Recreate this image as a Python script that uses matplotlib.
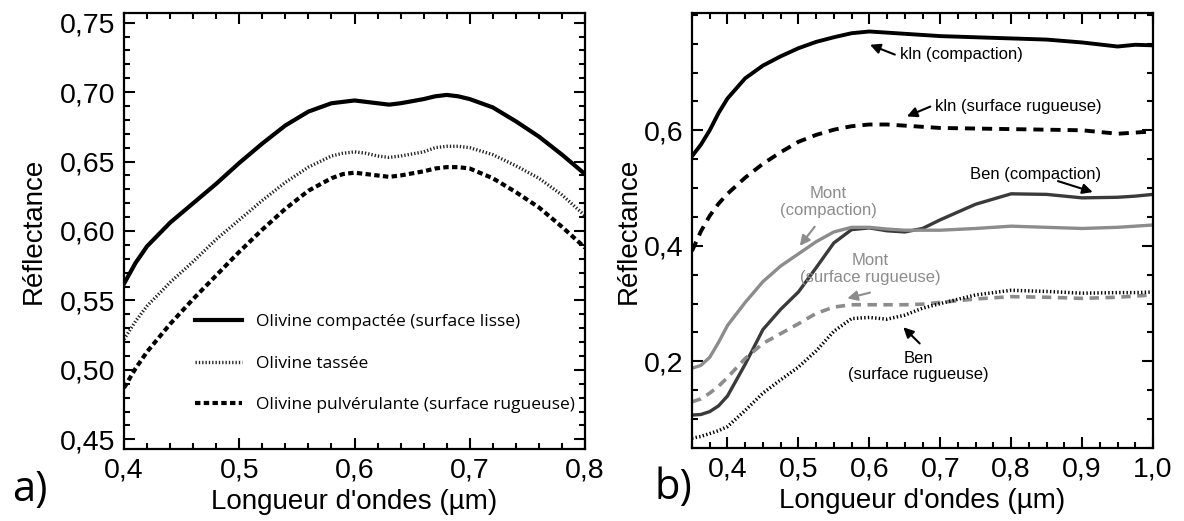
import matplotlib.pyplot as plt
from matplotlib.ticker import MultipleLocator, FixedLocator, FuncFormatter

plt.rcParams['font.family'] = ['Liberation Sans', 'DejaVu Sans']

# ---- panel a) olivine
wl_a = [0.40, 0.41, 0.42, 0.44, 0.46, 0.48, 0.50, 0.52, 0.54, 0.56, 0.58, 0.59, 0.60,
        0.61, 0.62, 0.63, 0.64, 0.66, 0.67, 0.68, 0.69, 0.70, 0.72, 0.74, 0.76, 0.78, 0.80]
oli_compact = [0.562, 0.577, 0.589, 0.606, 0.620, 0.634, 0.649, 0.663, 0.676, 0.686, 0.692, 0.693, 0.694,
               0.693, 0.692, 0.691, 0.692, 0.695, 0.697, 0.698, 0.697, 0.695, 0.689, 0.679, 0.668, 0.655, 0.641]
oli_tassee = [0.522, 0.535, 0.546, 0.563, 0.578, 0.594, 0.608, 0.622, 0.635, 0.646, 0.654, 0.656, 0.657,
              0.656, 0.654, 0.653, 0.654, 0.657, 0.660, 0.661, 0.661, 0.660, 0.655, 0.647, 0.638, 0.626, 0.611]
oli_pulv = [0.487, 0.501, 0.513, 0.533, 0.551, 0.568, 0.585, 0.601, 0.616, 0.629, 0.638, 0.641, 0.642,
            0.641, 0.640, 0.639, 0.640, 0.643, 0.645, 0.646, 0.646, 0.645, 0.638, 0.628, 0.617, 0.603, 0.588]
labels_a = ['Olivine compactée (surface lisse)', 'Olivine tassée',
            'Olivine pulvérulante (surface rugueuse)']

# ---- panel b) clays
wl_b = [0.35, 0.3625, 0.375, 0.3875, 0.40, 0.425, 0.45, 0.475, 0.50, 0.525, 0.55, 0.575, 0.60,
        0.625, 0.65, 0.675, 0.70, 0.75, 0.80, 0.85, 0.90, 0.95, 0.975, 1.0]
kln_comp = [0.555, 0.575, 0.600, 0.630, 0.655, 0.690, 0.712, 0.728, 0.742, 0.753, 0.761, 0.768, 0.771,
            0.769, 0.767, 0.765, 0.763, 0.761, 0.759, 0.757, 0.752, 0.745, 0.748, 0.747]
kln_rug = [0.391, 0.425, 0.452, 0.473, 0.490, 0.518, 0.542, 0.562, 0.580, 0.592, 0.601, 0.607, 0.610,
           0.610, 0.608, 0.606, 0.604, 0.603, 0.602, 0.601, 0.600, 0.594, 0.596, 0.598]
ben_comp = [0.107, 0.108, 0.113, 0.123, 0.140, 0.195, 0.255, 0.290, 0.320, 0.362, 0.405, 0.428, 0.431,
            0.426, 0.424, 0.430, 0.445, 0.472, 0.490, 0.489, 0.483, 0.484, 0.486, 0.489]
mont_comp = [0.188, 0.193, 0.207, 0.233, 0.262, 0.302, 0.338, 0.365, 0.386, 0.407, 0.424, 0.432, 0.432,
             0.429, 0.427, 0.427, 0.427, 0.430, 0.434, 0.432, 0.430, 0.432, 0.434, 0.436]
mont_rug = [0.130, 0.135, 0.145, 0.157, 0.172, 0.205, 0.231, 0.248, 0.265, 0.283, 0.294, 0.298, 0.298,
            0.298, 0.298, 0.299, 0.302, 0.308, 0.312, 0.311, 0.309, 0.311, 0.313, 0.315]
ben_rug = [0.067, 0.070, 0.075, 0.080, 0.087, 0.115, 0.145, 0.168, 0.190, 0.218, 0.252, 0.274, 0.276,
           0.273, 0.280, 0.292, 0.300, 0.315, 0.323, 0.321, 0.318, 0.319, 0.319, 0.320]

dark = '#3a3a3a'
light = '#8c8c8c'

fig = plt.figure(figsize=(11.84, 5.21), dpi=100)
axa = fig.add_axes([124/1184, 72/521, 461/1184, 436/521])
axb = fig.add_axes([692/1184, 73/521, 461/1184, 435/521])

def comma(nd):
    return FuncFormatter(lambda v, p: ('%.*f' % (nd, v)).replace('.', ','))

for ax in (axa, axb):
    for s in ax.spines.values():
        s.set_linewidth(1.6)
    ax.tick_params(which='both', direction='in', top=True, right=True,
                   labelsize=20.5, width=1.5, pad=6)
    ax.tick_params(which='major', length=8)
    ax.tick_params(which='minor', length=4.5)

# panel a
axa.plot(wl_a, oli_compact, color='black', lw=3, solid_joinstyle='round')
axa.plot(wl_a, oli_tassee, color='#222222', lw=2.4, ls=(0, (0.4, 0.6)))
axa.plot(wl_a, oli_pulv, color='black', lw=3, ls=(0, (1.3, 0.8)))
axa.set_xlim(0.4, 0.8)
axa.set_ylim(0.443, 0.757)
axa.xaxis.set_major_locator(MultipleLocator(0.1))
axa.xaxis.set_minor_locator(MultipleLocator(0.02))
axa.yaxis.set_major_locator(MultipleLocator(0.05))
axa.yaxis.set_minor_locator(MultipleLocator(0.01))
axa.xaxis.set_major_formatter(comma(1))
axa.yaxis.set_major_formatter(comma(2))
axa.set_xlabel("Longueur d'ondes (µm)", fontsize=20, labelpad=4)
axa.set_ylabel('Réflectance', fontsize=20, labelpad=10)
leg = axa.legend(labels_a, loc='upper left', bbox_to_anchor=(0.12, 0.345),
                 frameon=False, handlelength=2.7, labelspacing=1.45,
                 prop={'family': 'Open Sans', 'size': 12.5})

# panel b
axb.plot(wl_b, kln_comp, color='black', lw=2.8, solid_joinstyle='round')
axb.plot(wl_b, kln_rug, color='black', lw=2.8, ls=(0, (2.6, 1.8)))
axb.plot(wl_b, ben_comp, color=dark, lw=2.4, solid_joinstyle='round')
axb.plot(wl_b, mont_comp, color=light, lw=2.4, solid_joinstyle='round')
axb.plot(wl_b, mont_rug, color=light, lw=2.6, ls=(0, (2.6, 1.8)))
axb.plot(wl_b, ben_rug, color='black', lw=2.5, ls=(0, (0.4, 0.65)))
axb.set_xlim(0.35, 1.0)
axb.set_ylim(0.05, 0.803)
axb.xaxis.set_major_locator(MultipleLocator(0.1))
axb.xaxis.set_minor_locator(MultipleLocator(0.025))
axb.yaxis.set_major_locator(FixedLocator([0.2, 0.4, 0.6]))
axb.yaxis.set_minor_locator(MultipleLocator(0.05))
axb.xaxis.set_major_formatter(comma(1))
axb.yaxis.set_major_formatter(comma(1))
axb.set_xlabel("Longueur d'ondes (µm)", fontsize=20, labelpad=4)
axb.set_ylabel('Réflectance', fontsize=20, labelpad=2)

# annotations (text, text pos, arrow tail, arrow head, colour)
notes = [
    ('kln (compaction)', (0.643, 0.731), (0.636, 0.731), (0.601, 0.748), 'black'),
    ('kln (surface rugueuse)', (0.693, 0.641), (0.686, 0.641), (0.653, 0.624), 'black'),
    ('Ben (compaction)', (0.835, 0.524), (0.866, 0.512), (0.915, 0.493), 'black'),
    ('Mont\n(compaction)', (0.542, 0.476), (0.523, 0.433), (0.502, 0.400), light),
    ('Mont\n(surface rugueuse)', (0.601, 0.360), (0.601, 0.319), (0.569, 0.309), light),
    ('Ben\n(surface rugueuse)', (0.669, 0.191), (0.671, 0.231), (0.648, 0.259), 'black'),
]
for i, (txt, tp, tail, head, c) in enumerate(notes):
    ha = 'left' if i < 2 else 'center'
    axb.text(tp[0], tp[1], txt, color=c, fontsize=12, ha=ha, va='center',
             linespacing=1.15)
    axb.annotate('', xy=head, xytext=tail,
                 arrowprops=dict(arrowstyle='-|>,head_length=0.6,head_width=0.3',
                                 color=c, lw=1.5, shrinkA=0, shrinkB=0))

fig.text(12/1184, 1 - 490/521, 'a)', fontsize=30, family='Open Sans', va='center')
fig.text(655/1184, 1 - 488/521, 'b)', fontsize=30, family='Open Sans', va='center')

fig.savefig('out.png', dpi=100)
